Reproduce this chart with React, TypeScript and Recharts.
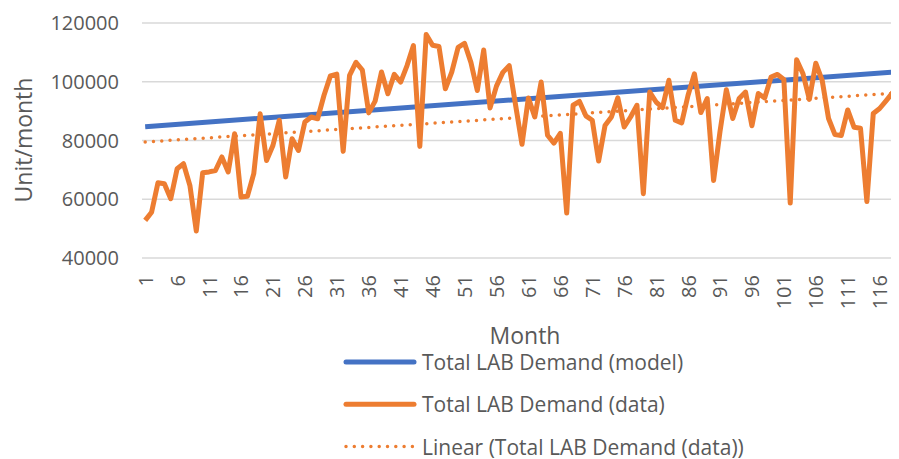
import { LineChart, Line, XAxis, YAxis, CartesianGrid, Legend, Label } from 'recharts';

const FONT = '"Open Sans", "Liberation Sans", sans-serif';
const TEXT = '#595959';
const BLUE = '#4472C4';
const ORANGE = '#ED7D31';

// months 1..119 (category axis)
const months: number[] = Array.from({ length: 119 }, (_, i) => i + 1);

// Total LAB Demand (data)
const demand: number[] = [
  52800, 55600, 65600, 65300, 60200, 70400, 72100, 64700, 49200, 69000,
  69300, 69800, 74400, 69300, 82300, 60800, 61000, 68700, 89100, 73200,
  78300, 86900, 67600, 80600, 76600, 86300, 88000, 87400, 95400, 102000,
  102600, 76300, 102200, 106600, 104000, 89400, 93400, 103300, 95900, 102500,
  99900, 105500, 112300, 78000, 116100, 112400, 112000, 97600, 103300, 111700,
  113100, 106600, 97000, 110800, 91100, 98500, 103200, 105500, 92000, 78700,
  94500, 88000, 99900, 81800, 79100, 82400, 55300, 92000, 93300, 88400,
  86900, 73000, 85100, 88000, 94500, 84600, 88000, 92000, 61900, 96500,
  93100, 91200, 100500, 86900, 86000, 95400, 102700, 89500, 94300, 66400,
  83000, 97300, 87500, 94300, 96500, 85000, 96000, 94500, 101600, 102500,
  100800, 58700, 107500, 102700, 94000, 106300, 100500, 87500, 82000, 81700,
  90400, 84500, 84200, 59200, 89200, 90900, 93500, 96200, 90300,
];

// straight lines: values at first and last month
const modelEnds: number[] = [84700, 103400];
const trendEnds: number[] = [79500, 96200];

const yTicks: number[] = [40000, 60000, 80000, 100000, 120000];

const legendItems = [
  { name: 'Total LAB Demand (model)', color: BLUE, dotted: false },
  { name: 'Total LAB Demand (data)', color: ORANGE, dotted: false },
  { name: 'Linear (Total LAB Demand (data))', color: ORANGE, dotted: true },
];

const last = months.length - 1;
const rows = months.map((m, i) => ({
  month: m,
  data: demand[i],
  model: i === 0 ? modelEnds[0] : i === last ? modelEnds[1] : null,
  trend: i === 0 ? trendEnds[0] : i === last ? trendEnds[1] : null,
}));

function MonthTick({ x, y, payload }: any) {
  return (
    <text
      x={x}
      y={y}
      transform={`rotate(-90 ${x} ${y})`}
      textAnchor="end"
      dominantBaseline="central"
      fill={TEXT}
      fontSize={20}
      fontFamily={FONT}
    >
      {payload.value}
    </text>
  );
}

function LegendBox() {
  return (
    <svg width={420} height={116} style={{ display: 'block' }}>
      {legendItems.map((item, i) => {
        const y = 20 + i * 42.3;
        return (
          <g key={item.name}>
            <line
              x1={3}
              x2={item.dotted ? 73 : 71}
              y1={y}
              y2={y}
              stroke={item.color}
              strokeWidth={item.dotted ? 3.5 : 5}
              strokeLinecap="round"
              strokeDasharray={item.dotted ? '0 8.3' : undefined}
            />
            <text x={79} y={y} dominantBaseline="central" fill={TEXT} fontSize={21} fontFamily={FONT}>
              {item.name}
            </text>
          </g>
        );
      })}
    </svg>
  );
}

export default function App() {
  return (
    <div style={{ width: 891, height: 451, overflow: 'hidden', position: 'relative' }}>
      <LineChart
        width={894}
        height={451}
        data={rows}
        margin={{ top: 15, right: 0, bottom: 0, left: 0 }}
        style={{ fontFamily: FONT }}
      >
        <CartesianGrid vertical={false} stroke="#D9D9D9" strokeWidth={1.5} />
        <XAxis
          dataKey="month"
          scale="band"
          height={201}
          interval={4}
          axisLine={false}
          tickLine={false}
          tickSize={0}
          tickMargin={17}
          tick={<MonthTick />}
        >
          <Label
            content={() => (
              <text x={517} y={327} textAnchor="middle" dominantBaseline="central" fill={TEXT} fontSize={23} fontFamily={FONT}>
                Month
              </text>
            )}
          />
        </XAxis>
        <YAxis
          width={134}
          domain={[40000, 120000]}
          ticks={yTicks}
          axisLine={false}
          tickLine={false}
          tickSize={0}
          tickMargin={23}
          tick={{ fill: TEXT, fontSize: 20, fontFamily: FONT }}
        >
          <Label
            content={() => (
              <text
                x={15}
                y={132}
                transform="rotate(-90 15 132)"
                textAnchor="middle"
                dominantBaseline="central"
                fill={TEXT}
                fontSize={23}
                fontFamily={FONT}
              >
                Unit/month
              </text>
            )}
          />
        </YAxis>
        <Legend
          layout="vertical"
          align="center"
          verticalAlign="middle"
          wrapperStyle={{ left: 335, top: 334, width: 420, height: 116 }}
          content={() => <LegendBox />}
        />
        <Line
          dataKey="model"
          stroke={BLUE}
          strokeWidth={5}
          dot={false}
          connectNulls
          isAnimationActive={false}
        />
        <Line
          dataKey="data"
          stroke={ORANGE}
          strokeWidth={5}
          strokeLinejoin="round"
          dot={false}
          isAnimationActive={false}
        />
        <Line
          dataKey="trend"
          stroke={ORANGE}
          strokeWidth={3.5}
          strokeLinecap="round"
          strokeDasharray="0 8.3"
          dot={false}
          connectNulls
          isAnimationActive={false}
        />
      </LineChart>
    </div>
  );
}
